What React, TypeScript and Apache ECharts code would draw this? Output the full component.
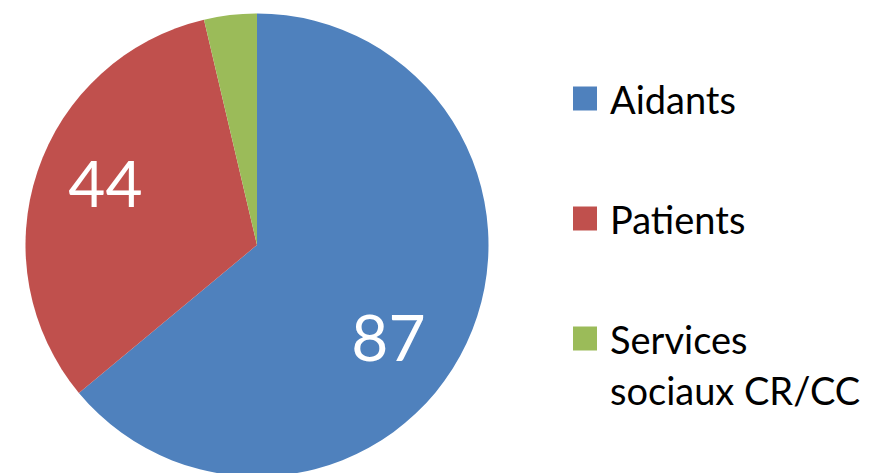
import React, { useEffect, useRef } from "react";
import * as echarts from "echarts";

const categories = ["Aidants", "Patients", "Services\nsociaux CR/CC"];
const values = [87, 44, 5];
const colors = ["#4F81BD", "#C0504D", "#9BBB59"];
const showLabel = [true, true, false];
const labelOffsets = [[24, 41], [-39, -25]];

export default function App() {
  const ref = useRef<HTMLDivElement>(null);
  useEffect(() => {
    document.body.style.margin = "0";
    const chart = echarts.init(ref.current!, null, { renderer: "svg" });
    const legendBase = {
      orient: "vertical",
      left: 568,
      height: 2000,
      itemWidth: 24,
      itemHeight: 24,
      itemGap: 69,
      icon: "rect",
      textStyle: {
        fontFamily: "Lato",
        fontSize: 38,
        color: "#000000",
        lineHeight: 51,
        padding: [0, 0, 0, 8],
      },
    };
    chart.setOption({
      animation: false,
      backgroundColor: "#ffffff",
      legend: [
        { ...legendBase, top: 68, data: [categories[0], categories[1]] },
        {
          ...legendBase,
          top: 257,
          data: [categories[2]],
          formatter: (name: string) => "\n" + name,
        },
      ],
      series: [
        {
          type: "pie",
          center: [257, 245],
          radius: 231.5,
          startAngle: 90,
          clockwise: true,
          avoidLabelOverlap: false,
          labelLine: { show: false },
          itemStyle: { borderWidth: 0 },
          emphasis: { disabled: true },
          data: categories.map((c, i) => ({
            name: c,
            value: values[i],
            itemStyle: { color: colors[i] },
            label: {
              show: showLabel[i],
              position: "inside",
              formatter: "{c}",
              color: "#ffffff",
              fontFamily: "Lato",
              fontSize: 64,
              offset: labelOffsets[i] || [0, 0],
            },
          })),
        },
      ],
    });
    return () => chart.dispose();
  }, []);
  return (
    <div
      ref={ref}
      style={{ width: 881, height: 473, position: "absolute", left: 0, top: 0 }}
    />
  );
}
